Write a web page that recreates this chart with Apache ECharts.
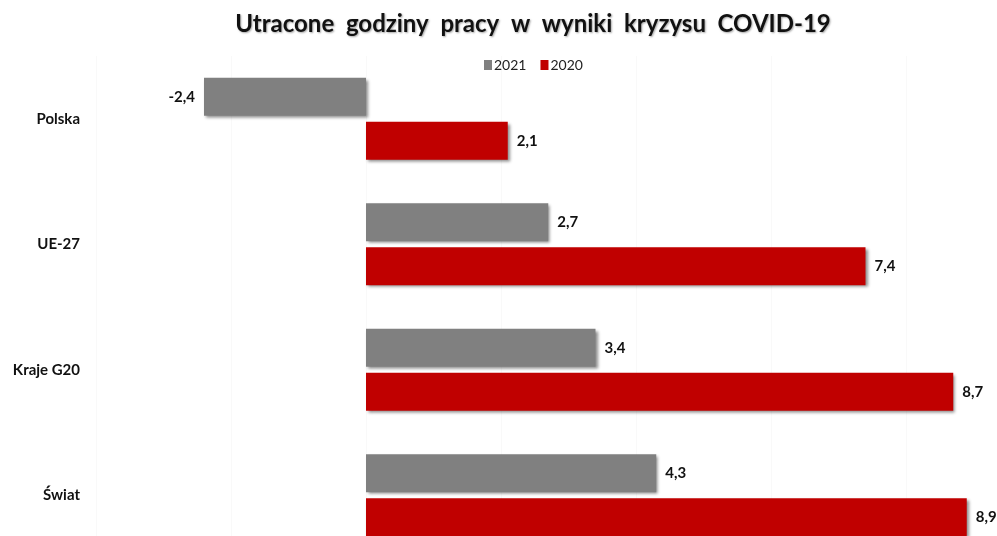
<!DOCTYPE html>
<html lang="pl">
<head>
    <meta charset="UTF-8">
    <title>index</title>
    <script src="https://cdn.jsdelivr.net/npm/echarts@6/dist/echarts.min.js"></script>
    <style>
        html, body { margin: 0; padding: 0; background: #fff; }
    </style>
</head>
<body>
<div id="main" style="width: 997px;height:536px;"></div>

<script type="text/javascript">
    // dane z wykresu
    var kraje = ['Polska', 'UE-27', 'Kraje G20', 'Świat'];
    var lata = ['2021', '2020'];
    var wartosci2021 = [-2.4, 2.7, 3.4, 4.3];
    var wartosci2020 = [2.1, 7.4, 8.7, 8.9];

    var font = 'Lato, "Open Sans", sans-serif';

    function przecinek(p) {
        return String(p.value).replace('.', ',');
    }

    // etykieta po lewej dla wartości ujemnych
    function punkty(arr) {
        return arr.map(function (v) {
            if (v < 0) {
                return { value: v, label: { position: 'left' } };
            }
            return v;
        });
    }

    var cien = {
        shadowColor: 'rgba(0,0,0,0.45)',
        shadowBlur: 3,
        shadowOffsetX: 2,
        shadowOffsetY: 2
    };

    var etykieta = {
        show: true,
        position: 'right',
        distance: 9,
        formatter: przecinek,
        fontFamily: font,
        fontWeight: 'bold',
        fontSize: 15,
        color: '#111'
    };

    var myChart = echarts.init(document.getElementById('main'));

    var option = {
        animation: false,
        title: {
            text: 'Utracone  godziny  pracy  w  wyniki  kryzysu  COVID-19',
            left: 528,
            textAlign: 'center',
            top: 7,
            textStyle: {
                fontFamily: font,
                fontWeight: 'bold',
                fontSize: 24,
                color: '#111',
                textShadowColor: 'rgba(0,0,0,0.35)',
                textShadowBlur: 2,
                textShadowOffsetX: 1,
                textShadowOffsetY: 1
            }
        },
        legend: {
            data: lata,
            top: 53,
            left: 479,
            itemWidth: 8,
            itemHeight: 10,
            itemGap: 14,
            icon: 'rect',
            textStyle: {
                fontFamily: font,
                fontSize: 14,
                color: '#222',
                padding: [0, 0, 0, -3]
            }
        },
        grid: {
            left: 96,
            top: 56,
            width: 945,
            height: 502,
            outerBoundsMode: 'none',
            containLabel: false
        },
        xAxis: {
            type: 'value',
            min: -4,
            max: 10,
            interval: 2,
            axisLabel: { show: false },
            axisLine: { show: false },
            axisTick: { show: false },
            splitLine: { lineStyle: { color: '#f9f9f9' } }
        },
        yAxis: {
            type: 'category',
            data: kraje,
            inverse: true,
            axisLine: { show: false },
            axisTick: { show: false },
            axisLabel: {
                margin: 16,
                fontFamily: font,
                fontWeight: 'bold',
                fontSize: 15,
                color: '#111'
            }
        },
        series: [
            {
                name: '2021',
                type: 'bar',
                data: punkty(wartosci2021),
                barWidth: 38,
                barGap: '16%',
                itemStyle: Object.assign({ color: '#808080' }, cien),
                label: etykieta
            },
            {
                name: '2020',
                type: 'bar',
                data: punkty(wartosci2020),
                barWidth: 38,
                barGap: '16%',
                itemStyle: Object.assign({ color: '#C00000' }, cien),
                label: etykieta
            }
        ]
    };

    myChart.setOption(option);
</script>
</body>
</html>
